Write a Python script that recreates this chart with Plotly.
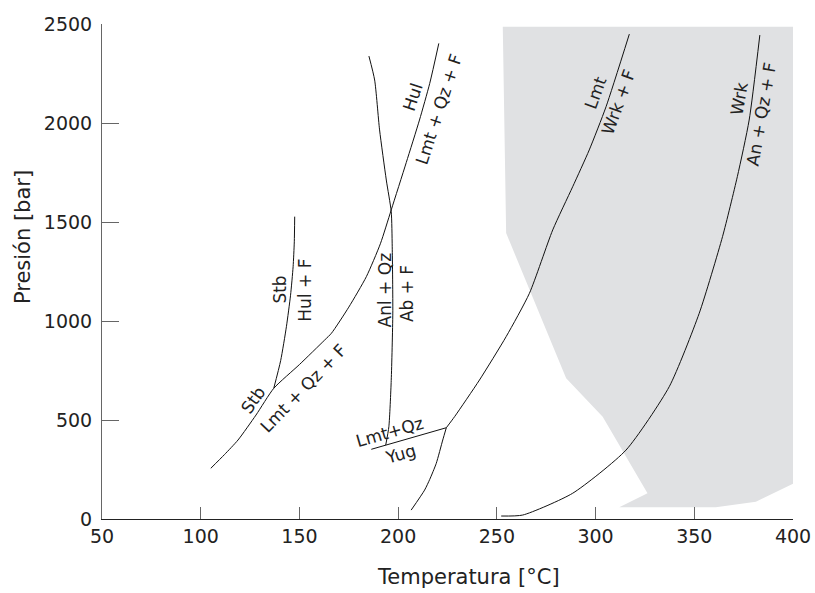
import plotly.graph_objects as go

# ---- data (temperature °C, pressure bar) ----
# Stb -> Lmt+Qz+F  and  Hul -> Lmt+Qz+F  (one continuous boundary)
lmt_t = [105.1, 112, 118.9, 128, 137.0, 150, 162.8, 166.2, 175, 183.9, 191, 196.5, 204.1, 210.8, 216, 220.6]
lmt_p = [256, 325, 399, 525, 660, 780, 904, 938, 1070, 1224, 1390, 1561, 1800, 2015, 2200, 2402]
# Stb -> Hul + F
stb_t = [137.0, 140.5, 143.4, 145.5, 146.8, 147.4, 147.6]
stb_p = [660, 800, 971, 1130, 1274, 1400, 1527]
# Anl + Qz -> Ab + F
anl_t = [185.2, 188.1, 190.6, 194.0, 196.5, 197.0, 197.3, 196.5, 195.3, 193.7]
anl_p = [2338, 2217, 1965, 1712, 1552, 1375, 1040, 700, 466, 373]
# Lmt + Qz -> Yug
yug_t = [186.4, 224.4]
yug_p = [352, 461]
# Yug boundary (low pressure)
yugb_t = [224.4, 222.6, 219.3, 216.0, 213.4, 206.6]
yugb_p = [461, 399, 281, 200, 146, 45]
# Lmt -> Wrk + F
wrk_t = [224.4, 228.6, 241.2, 254.7, 266.5, 278.3, 288.4, 296.8, 305.3, 317.1]
wrk_p = [461, 517, 702, 921, 1140, 1460, 1678, 1864, 2082, 2449]
# Wrk -> An + Qz + F
an_t = [252.2, 263.1, 288.4, 315.4, 337.3, 352.5, 364.3, 371.8, 377.8, 383.2]
an_p = [15, 20, 130, 348, 668, 1039, 1426, 1729, 2015, 2444]
# gray field
gray_t = [253.0, 254.7, 285.1, 303.6, 326.3, 312.0, 360.9, 381.2, 400.5, 400.9]
gray_p = [2486, 1444, 711, 517, 130, 59, 59, 87, 180, 2486]

# labels: text, T, P, angle
label_text = ["Stb", "Hul + F", "Stb", "Lmt + Qz + F", "Anl + Qz", "Ab + F",
              "Hul", "Lmt + Qz + F", "Lmt+Qz", "Yug", "Lmt", "Wrk + F", "Wrk", "An + Qz + F"]
label_t = [140.0, 152.7, 126.5, 152.2, 193.1, 204.4, 207.5, 220.6, 195.7, 201.1, 300.2, 311.5, 372.7, 384.0]
label_p = [1157, 1157, 601, 660, 1157, 1140, 2130, 2071, 441, 328, 2155, 2108, 2121, 2045]
label_angle = [-90, -90, -55, -46, -90, -90, -72, -72, -16, -16, -70, -70, -80, -80]

x_ticks = [50, 100, 150, 200, 250, 300, 350, 400]
y_ticks = [0, 500, 1000, 1500, 2000, 2500]

FONT = "DejaVu Sans"

fig = go.Figure()
fig.add_trace(go.Scatter(x=gray_t, y=gray_p, fill="toself", fillcolor="#e0e1e3",
                         line=dict(width=0, color="rgba(0,0,0,0)"), mode="lines",
                         hoverinfo="skip", showlegend=False))
for xs, ys in [(lmt_t, lmt_p), (stb_t, stb_p), (anl_t, anl_p), (yug_t, yug_p),
               (yugb_t, yugb_p), (wrk_t, wrk_p), (an_t, an_p)]:
    fig.add_trace(go.Scatter(x=xs, y=ys, mode="lines",
                             line=dict(color="#111", width=1, shape="spline", smoothing=0.6),
                             showlegend=False, hoverinfo="skip"))

for txt, t, p, a in zip(label_text, label_t, label_p, label_angle):
    fig.add_annotation(x=t, y=p, text=txt, textangle=a, showarrow=False,
                       xanchor="center", yanchor="middle",
                       font=dict(family=FONT, size=17, color="#222"))

fig.add_annotation(xref="paper", yref="paper", x=0.531, y=-0.117, text="Temperatura [°C]",
                   showarrow=False, xanchor="center", yanchor="middle",
                   font=dict(family=FONT, size=21, color="#222"))
fig.add_annotation(xref="paper", yref="paper", x=-0.114, y=0.57, text="Presión [bar]",
                   textangle=-90, showarrow=False, xanchor="center", yanchor="middle",
                   font=dict(family=FONT, size=21, color="#222"))

fig.update_xaxes(range=[50, 400], tickvals=x_ticks, ticks="inside", ticklen=12, tickcolor="#666",
                 showline=True, linecolor="#222", linewidth=1, showgrid=False, zeroline=False,
                 automargin=False,
                 tickfont=dict(family=FONT, size=19, color="#222"))
fig.update_yaxes(range=[0, 2500], tickvals=y_ticks, ticks="inside", ticklen=17, tickcolor="#666",
                 showline=True, linecolor="#666", linewidth=1, showgrid=False, zeroline=False,
                 ticklabelstandoff=5, automargin=False,
                 tickfont=dict(family=FONT, size=19, color="#222"))
fig.update_layout(width=815, height=593, autosize=False,
                  margin=dict(l=102, r=22, t=24, b=74, autoexpand=False),
                  plot_bgcolor="white", paper_bgcolor="white")
fig.write_html("out.html", config={"responsive": False, "displayModeBar": False},
               post_script="document.body.style.margin='0';document.body.style.overflow='hidden';")
